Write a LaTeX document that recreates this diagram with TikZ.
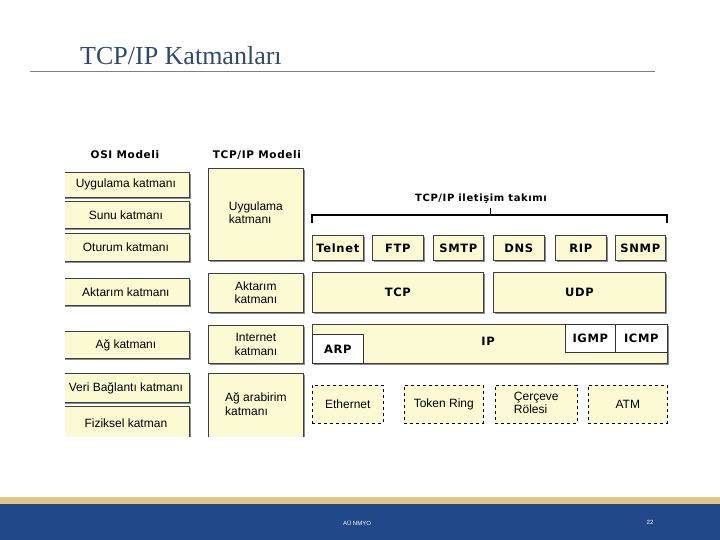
\documentclass[tikz,border=0pt]{standalone}
\usepackage{fontspec}
\setmainfont{Liberation Sans}
\newfontfamily\titlefont{Liberation Serif}
\newfontfamily\protofont[LetterSpace=6]{DejaVu Sans}
\newfontfamily\footfont{Liberation Sans}
\usetikzlibrary{shadows}
\definecolor{boxfill}{HTML}{FCFAD3}
\definecolor{titleblue}{HTML}{2F4A6E}
\definecolor{footblue}{HTML}{21498A}
\definecolor{footgold}{HTML}{E3C587}
\tikzset{
  base/.style={anchor=north west, inner sep=0pt, align=center, font=\fontsize{12}{13.5}\selectfont},
  layer/.style={base, draw=black!75, line width=0.7pt, fill=boxfill,
     drop shadow={shadow xshift=1.6pt, shadow yshift=-1.6pt, fill=black!45, opacity=1}},
  proto/.style={layer, font=\protofont\bfseries\fontsize{11.5}{12}\selectfont},
  whitebox/.style={base, draw=black!80, line width=0.7pt, fill=white, font=\protofont\bfseries\fontsize{11.5}{12}\selectfont},
  dashbox/.style={base, draw=black, dashed, line width=0.6pt, fill=boxfill},
  head/.style={font=\protofont\bfseries\fontsize{10.5}{12}\selectfont},
}
% \bx{name}{x1}{y1}{x2}{y2}{style}{text}
\newcommand{\bx}[7]{\node[#6, minimum width={(#4-#2)*1pt}, minimum height={(#5-#3)*1pt}] (#1) at (#2,#3) {#7};}
\begin{document}
\begin{tikzpicture}[x=1pt,y=-1pt]
\useasboundingbox (0,0) rectangle (720,540);
\fill[white] (0,0) rectangle (720,540);
% title
\node[anchor=base west, inner sep=0pt, text=titleblue, font=\titlefont\fontsize{26}{28}\selectfont] (title) at (80,65) {TCP/IP Katmanları};
\draw[black!50, line width=1pt] (30,72) coordinate (rl) -- (655,72) coordinate (rr);
% headers
\node[head] (osih) at (125,155) {OSI Modeli};
\node[head] (tcph) at (257,155) {TCP/IP Modeli};
\begin{scope}
\clip (65,140) rectangle (700,436);
% OSI column
\bx{o7}{62}{172}{189}{197}{layer}{Uygulama katmanı}
\bx{o6}{62}{201}{189}{228}{layer}{Sunu katmanı}
\bx{o5}{62}{233}{189}{261}{layer}{Oturum katmanı}
\bx{o4}{62}{278}{189}{305}{layer}{Aktarım katmanı}
\bx{o3}{62}{331}{189}{358}{layer}{Ağ katmanı}
\bx{o2}{62}{373}{189}{402}{layer}{Veri Bağlantı katmanı}
\bx{o1}{62}{406}{189}{440}{layer}{Fiziksel katman}
% TCP/IP model column
\bx{t4}{208}{168}{303}{260}{layer}{\begin{tabular}{@{}l@{}}Uygulama\\katmanı\end{tabular}}
\bx{t3}{208}{273}{303}{312}{layer}{Aktarım\\katmanı}
\bx{t2}{208}{325}{303}{363}{layer}{Internet\\katmanı}
\bx{t1}{208}{373}{303}{438}{layer}{\begin{tabular}{@{}l@{}}Ağ arabirim\\katmanı\end{tabular}}
\end{scope}
% bracket
\coordinate (bl) at (312,223);
\coordinate (br) at (667,223);
\coordinate (bm) at (490,208);
\draw[black, line width=1.2pt] (bl) -- (312,215) -- (667,215) -- (br);
\draw[black, line width=0.8pt] (490,215) -- (bm);
\node[font=\protofont\bfseries\fontsize{10}{11}\selectfont, anchor=south, inner sep=1pt] (suite) at (481,205) {TCP/IP iletişim takımı};
% application protocols
\bx{telnet}{312}{235}{363}{260}{proto}{Telnet}
\bx{ftp}{372}{235}{423}{260}{proto}{FTP}
\bx{smtp}{433}{235}{483}{260}{proto}{SMTP}
\bx{dns}{493}{235}{544}{260}{proto}{DNS}
\bx{rip}{555}{235}{606}{260}{proto}{RIP}
\bx{snmp}{615}{235}{665}{260}{proto}{SNMP}
% transport
\bx{tcp}{312}{272}{483}{312}{proto}{TCP}
\bx{udp}{493}{272}{665}{312}{proto}{UDP}
% internet
\bx{ip}{312}{324}{667}{363}{proto}{}
\node[font=\protofont\bfseries\fontsize{11.5}{12}\selectfont] (iplab) at (488,341) {IP};
\bx{arp}{312}{334}{363}{363}{whitebox}{ARP}
\bx{igmp}{565}{324}{615}{352}{whitebox}{IGMP}
\bx{icmp}{615}{324}{667}{352}{whitebox}{ICMP}
% network interface
\bx{eth}{312}{385}{383}{423}{dashbox}{Ethernet}
\bx{tok}{404}{385}{483}{423}{dashbox}{Token Ring}
\bx{fr}{495}{385}{577}{423}{dashbox}{\begin{tabular}{@{}l@{}}Çerçeve\\Rölesi\end{tabular}}
\bx{atm}{588}{385}{667}{423}{dashbox}{ATM}
% footer
\fill[footgold] (0,497) rectangle (720,504);
\fill[footblue] (0,504) rectangle (720,540);
\node[text=white, font=\footfont\fontsize{6}{7}\selectfont] (foot) at (357,523) {AÜ NMYO};
\node[text=white, font=\footfont\fontsize{6}{7}\selectfont] (page) at (650,522) {22};
\end{tikzpicture}
\end{document}
